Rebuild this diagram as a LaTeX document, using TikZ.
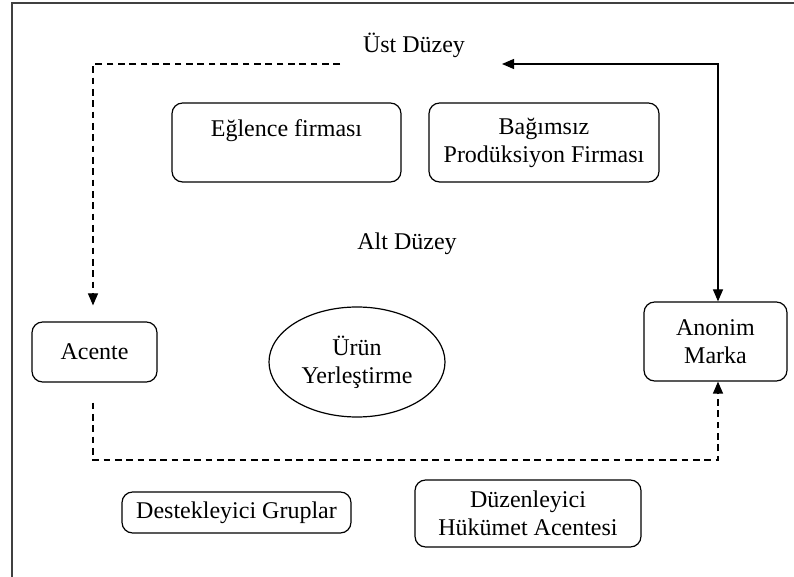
\documentclass[tikz,border=0pt]{standalone}
\usepackage{fontspec}
\setmainfont{Liberation Serif}
\usepackage{tikz}
\usetikzlibrary{calc}
\usetikzlibrary{arrows.meta}
\usetikzlibrary{shapes.geometric}

\tikzset{
  kutu/.style={draw,rounded corners=8pt,line width=0.9pt,align=center,inner sep=0pt},
  elips/.style={draw,ellipse,line width=0.9pt,align=center,inner sep=0pt},
  kesik/.style={dashed,dash pattern=on 5pt off 3.5pt,line width=0.9pt},
}

\begin{document}
\begin{tikzpicture}[x=0.75pt,y=-0.75pt,font=\fontsize{18}{21}\selectfont,>={Triangle[length=9pt,width=7.5pt]}]

          \useasboundingbox (0,0) rectangle (794,577); %画像の大きさ
          \draw[line width=1pt,black!75] (12,577)--(12,3)--(794,3); %枠

          \node (ust) at (414,45) {Üst Düzey}; %上位
          \node (alt) at (407,244) {Alt Düzey}; %下位

          \node[kutu,minimum width=171.75pt,minimum height=59.25pt] (eglence) at (286.5,142.5) {Eğlence firması\\\mbox{}}; %娯楽会社
          \node[kutu,minimum width=172.5pt,minimum height=59.25pt] (bagimsiz) at (544,142.5) {Bağımsız\\Prodüksiyon Firması}; %独立制作会社
          \node[kutu,minimum width=93.75pt,minimum height=45pt] (acente) at (94.5,352) {Acente}; %代理店
          \node[kutu,minimum width=107.25pt,minimum height=59.25pt] (anonim) at (715.5,341.5) {Anonim\\Marka}; %ブランド
          \node[elips,minimum width=132pt,minimum height=82.5pt] (urun) at (357,362) {Ürün\\Yerleştirme}; %製品配置
          \node[kutu,minimum width=171.75pt,minimum height=30.75pt] (destek) at (236.5,512.5) {Destekleyici Gruplar}; %支援団体
          \node[kutu,minimum width=169.5pt,minimum height=50.25pt] (duzen) at (528,513.5) {Düzenleyici\\Hükümet Acentesi}; %規制機関

          \coordinate (ustsol) at (340,64); %破線の始点
          \coordinate (solkose) at (93,64); %左上の角
          \coordinate (ustsag) at (502,64); %矢印の先
          \coordinate (kose) at (718,64); %右上の角
          \coordinate (altkose) at (718,460); %右下の角

          \draw[kesik,->] (ustsol)--(solkose)--([yshift=12pt]solkose |- acente.north); %上の破線
          \draw[line width=0.9pt,<->] (ustsag)--(kose)--(kose |- anonim.north); %実線
          \draw[kesik,->] ([yshift=-15pt]solkose |- acente.south)|-(altkose)--(altkose |- anonim.south); %下の破線

        \end{tikzpicture}
\end{document}
